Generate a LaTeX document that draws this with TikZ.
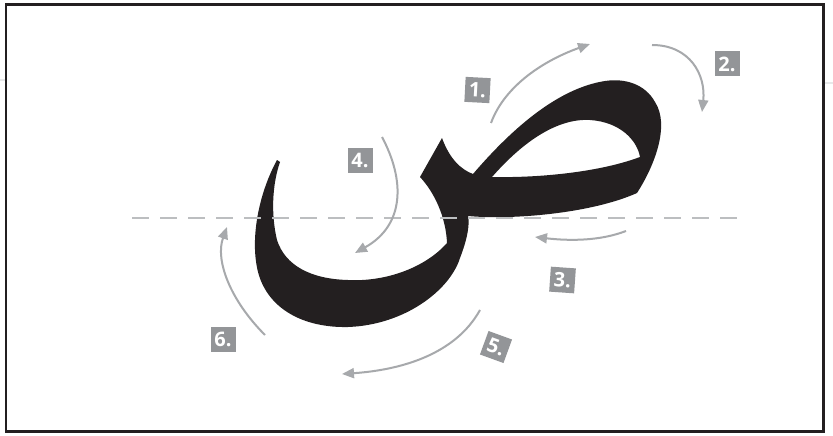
\documentclass[tikz,border=0pt]{standalone}
\usepackage{fontspec}
\setmainfont{Open Sans}
\usetikzlibrary{arrows.meta}

\definecolor{ink}{HTML}{231F20}
\definecolor{arrowgray}{HTML}{A7A9AC}
\definecolor{boxgray}{HTML}{939598}
\definecolor{guidegray}{HTML}{BCBEC0}

\begin{document}
\begin{tikzpicture}[
  x=1pt, y=-1pt,
  >={Triangle[length=12pt, width=10pt]},
  stroke/.style={->, arrowgray, line width=2pt},
  num/.style={fill=boxgray, text=white, minimum size=25pt, inner sep=0pt,
              font=\fontsize{20}{20}\selectfont\bfseries},
  letter/.style={fill=ink, even odd rule},
  guide/.style={guidegray, line width=1.2pt, dash pattern=on 17pt off 11pt},
]
  \useasboundingbox (0,0) rectangle (833,436);
  \draw[guidegray, line width=0.8pt] (0,80) -- (833,83);
  \draw[fill=white, draw=ink, line width=2.7pt] (6,4.7) rectangle (823.8,431.7);

  % the letter, with its counter cut out
  \fill[letter] (277,160)
      .. controls (258,195) and (250,240) .. (258,272)
      .. controls (268,310) and (305,328) .. (348,327)
      .. controls (405,325) and (450,290) .. (460,258)
      .. controls (467,240) and (470,225) .. (468,216)
      .. controls (510,220) and (590,214) .. (637,193)
      .. controls (655,165) and (670,125) .. (655,102)
      .. controls (645,84) and (625,78) .. (605,81)
      .. controls (560,88) and (515,125) .. (473,174)
      .. controls (462,170) and (450,160) .. (442,138)
      -- (420,177)
      .. controls (435,193) and (446,218) .. (447,243)
      .. controls (425,268) and (385,282) .. (348,280)
      .. controls (310,279) and (285,265) .. (277,240)
      .. controls (271,215) and (272,185) .. (280,162) -- cycle
    (492,177) .. controls (520,145) and (555,118) .. (590,120)
      .. controls (620,122) and (637,140) .. (640,157)
      .. controls (600,172) and (540,178) .. (492,177) -- cycle;

  \draw[guide] (132,218) -- (740,218);

  \foreach \name/\x/\y/\ang in {1/477.5/90/-3, 2/727/64/0, 3/562.5/280/-4,
                                4/360/160/0, 5/496/347/-20, 6/223/339/0}
    \node[num, rotate=\ang] (n\name) at (\x,\y) {\name.};

  % where each stroke starts and ends
  \foreach \name/\sx/\sy/\ex/\ey in {1/491/123/590/44, 2/652/45/702/112,
      3/626/231/535/237, 4/382/137/355/253, 5/480/310/342/374, 6/265/335/227/227}
  {
    \coordinate (s\name) at (\sx,\sy);
    \coordinate (e\name) at (\ex,\ey);
  }

  \draw[stroke] (s1) .. controls (505,85) and (545,60) .. (e1);
  \draw[stroke] (s2) .. controls (690,45) and (706,75) .. (e2);
  \draw[stroke] (s3) .. controls (600,241) and (570,241) .. (e3);
  \draw[stroke] (s4) .. controls (405,180) and (405,225) .. (e4);
  \draw[stroke] (s5) .. controls (455,355) and (400,370) .. (e5);
  \draw[stroke] (s6) .. controls (230,300) and (215,260) .. (e6);
\end{tikzpicture}
\end{document}
